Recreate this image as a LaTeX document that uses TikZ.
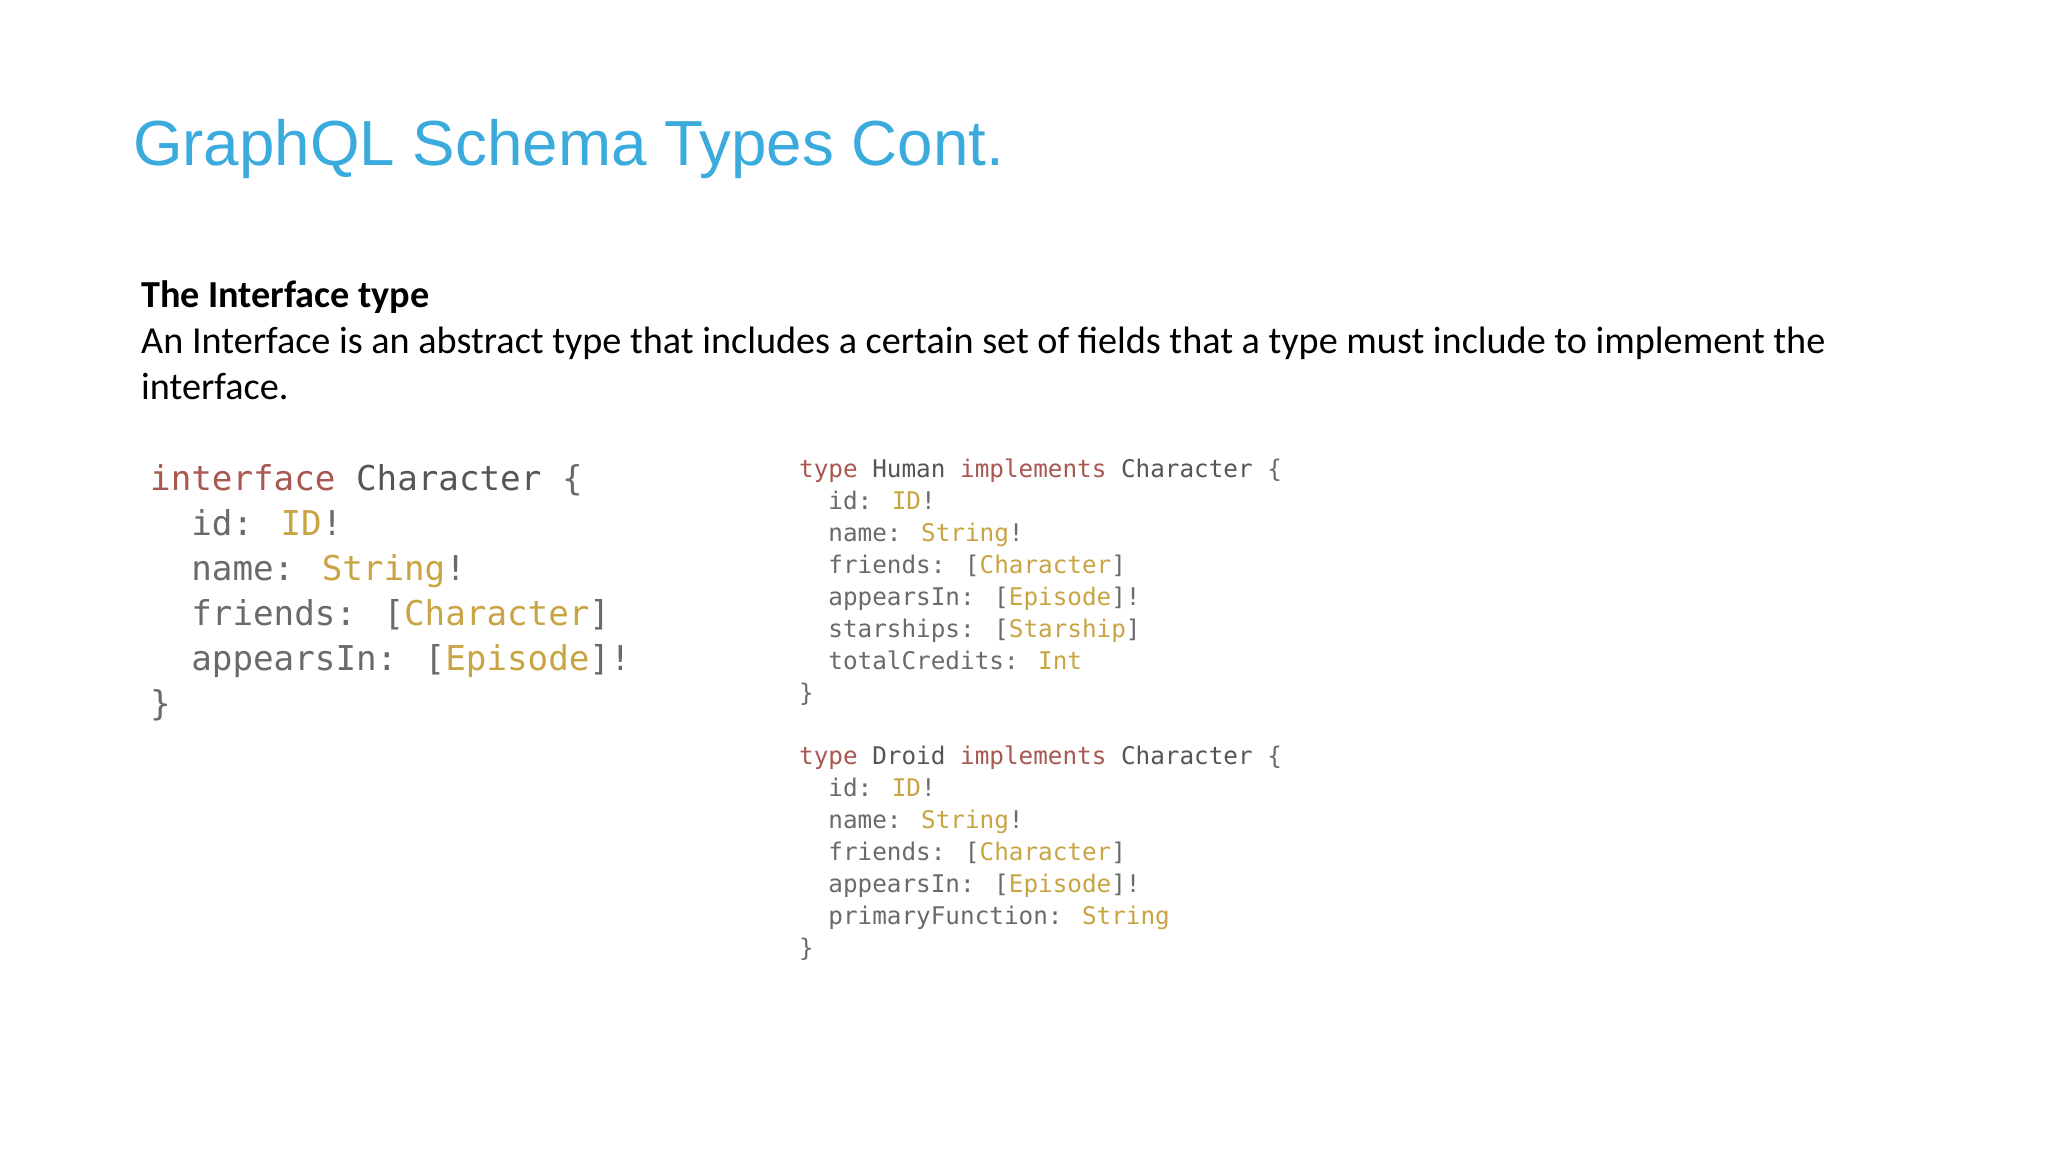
\documentclass[tikz,border=0pt]{standalone}
\usepackage{fontspec}
\setmainfont{Carlito}
\newfontfamily\titlefont{Liberation Sans}
\newfontfamily\codefont{DejaVu Sans Mono}
\definecolor{ttl}{HTML}{3AABDC}
\definecolor{kw}{HTML}{A85850}
\definecolor{nm}{HTML}{555555}
\definecolor{fd}{HTML}{6A6A6A}
\definecolor{ty}{HTML}{C9A443}
\newcommand{\K}[1]{\textcolor{kw}{#1}}
\newcommand{\N}[1]{\textcolor{nm}{#1}}
\newcommand{\T}[1]{\textcolor{ty}{#1}}
\begin{document}
\begin{tikzpicture}[x=1pt,y=-1pt,
  txt/.style={anchor=base west,inner sep=0pt,text=fd},
  big/.style={txt,font=\codefont\fontsize{34.2}{40}\selectfont},
  small/.style={txt,font=\codefont\fontsize{24.3}{30}\selectfont}]
\useasboundingbox[fill=white] (0,0) rectangle (2048,1152);
\node[anchor=base west,inner sep=0pt,text=ttl,font=\titlefont\fontsize{63.7}{70}\selectfont] (title) at (133,165) {GraphQL Schema Types Cont.};
\node[anchor=base west,inner sep=0pt,font=\bfseries\fontsize{38.2}{46}\selectfont] (h) at (141,307) {The Interface type};
\node[anchor=base west,inner sep=0pt,font=\fontsize{38.2}{46}\selectfont] (p1) at (141,353) {An Interface is an abstract type that includes a certain set of fields that a type must include to implement the};
\node[anchor=base west,inner sep=0pt,font=\fontsize{38.2}{46}\selectfont] (p2) at (141,399) {interface.};
% left block
\node[big] (l1) at (150,490) {\K{interface} \N{Character} \{};
\node[big] (l2) at (150,535) {~~id: \T{ID}!};
\node[big] (l3) at (150,580) {~~name: \T{String}!};
\node[big] (l4) at (150,625) {~~friends: [\T{Character}]};
\node[big] (l5) at (150,670) {~~appearsIn: [\T{Episode}]!};
\node[big] (l6) at (150,715) {\}};
% human
\node[small] (h1) at (799,477) {\K{type} \N{Human} \K{implements} \N{Character} \{};
\node[small] (h2) at (799,509) {~~id: \T{ID}!};
\node[small] (h3) at (799,541) {~~name: \T{String}!};
\node[small] (h4) at (799,573) {~~friends: [\T{Character}]};
\node[small] (h5) at (799,605) {~~appearsIn: [\T{Episode}]!};
\node[small] (h6) at (799,637) {~~starships: [\T{Starship}]};
\node[small] (h7) at (799,669) {~~totalCredits: \T{Int}};
\node[small] (h8) at (799,701) {\}};
% droid
\node[small] (d1) at (799,764) {\K{type} \N{Droid} \K{implements} \N{Character} \{};
\node[small] (d2) at (799,796) {~~id: \T{ID}!};
\node[small] (d3) at (799,828) {~~name: \T{String}!};
\node[small] (d4) at (799,860) {~~friends: [\T{Character}]};
\node[small] (d5) at (799,892) {~~appearsIn: [\T{Episode}]!};
\node[small] (d6) at (799,924) {~~primaryFunction: \T{String}};
\node[small] (d7) at (799,956) {\}};
\end{tikzpicture}
\end{document}
